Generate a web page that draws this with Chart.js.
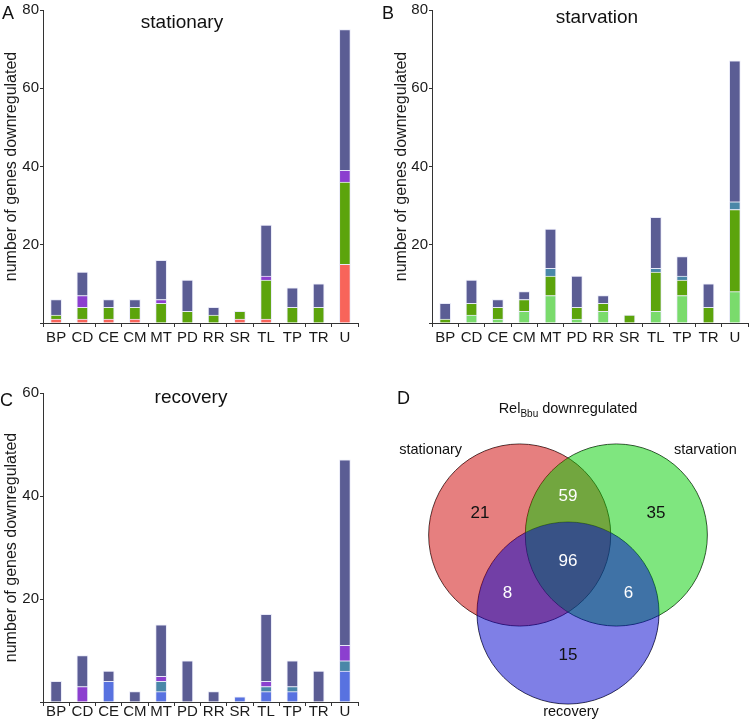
<!DOCTYPE html>
<html>
<head>
<meta charset="utf-8">
<script src="https://cdn.jsdelivr.net/npm/chart.js@4.4.1/dist/chart.umd.min.js"></script>
<style>
  html, body { margin: 0; padding: 0; background: #fff; }
  #wrap { position: relative; width: 749px; height: 721px; overflow: hidden; }
  canvas { position: absolute; }
</style>
</head>
<body>
<div id="wrap">
  <canvas id="chartA" width="370" height="350" style="left:0;top:0"></canvas>
  <canvas id="chartB" width="379" height="350" style="left:370px;top:0"></canvas>
  <canvas id="chartC" width="370" height="371" style="left:0;top:350px"></canvas>
  <canvas id="chartD" width="379" height="371" style="left:370px;top:350px"></canvas>
</div>
<script>
const categories = ['BP', 'CD', 'CE', 'CM', 'MT', 'PD', 'RR', 'SR', 'TL', 'TP', 'TR', 'U'];

// genes per functional category, split by Venn region
const onlyStationary = [1, 1, 1, 1, 0, 0, 0, 1, 1, 0, 0, 15];
const onlyStarvation = [0, 2, 1, 3, 7, 1, 3, 0, 3, 7, 0, 8];
const onlyRecovery   = [0, 0, 4, 0, 2, 0, 0, 1, 2, 2, 0, 6];
const statAndStarv   = [1, 3, 3, 3, 5, 3, 2, 2, 10, 4, 4, 21];
const statAndRecov   = [0, 3, 0, 0, 1, 0, 0, 0, 1, 0, 0, 3];
const starvAndRecov  = [0, 0, 0, 0, 2, 0, 0, 0, 1, 1, 0, 2];
const allThree       = [4, 6, 2, 2, 10, 8, 2, 0, 13, 5, 6, 36];

const yTicksAB = [0, 20, 40, 60, 80];
const yTicksC = [0, 20, 40, 60];

// Venn: stationary, starvation, recovery, stat+starv, stat+recov, starv+recov, all three
const vennSets = ['stationary', 'starvation', 'recovery'];
const vennCounts = [21, 35, 15, 59, 8, 6, 96];

const FONT = '"Liberation Sans", Arial, Helvetica, sans-serif';
Chart.defaults.font.family = FONT;
Chart.defaults.color = '#1a1a1a';

const colors = {
  red: '#f8645a',
  green: '#5ca40c',
  purple: '#8c3fcf',
  navy: '#5b5d94',
  light: '#7adb6c',
  teal: '#4a87a8',
  blue: '#5872e0'
};

const panelText = {
  id: 'panelText',
  afterDraw(chart, args, opts) {
    const c = chart.ctx;
    c.save();
    c.fillStyle = '#111';
    c.textBaseline = 'alphabetic';
    c.textAlign = 'left';
    c.font = '18px ' + FONT;
    c.fillText(opts.letter, opts.letterX, opts.letterY);
    c.textAlign = 'center';
    c.font = '19px ' + FONT;
    c.fillText(opts.title, opts.titleX, opts.titleY);
    c.restore();
  }
};

function stackedPanel(id, layers, yTicks, frame, text) {
  const datasets = layers.map(l => ({
    label: l.name,
    data: l.values,
    backgroundColor: l.color,
    borderColor: 'rgba(232,233,248,0.95)',
    borderWidth: 1,
    barThickness: 11
  }));
  return new Chart(document.getElementById(id), {
    type: 'bar',
    data: { labels: categories, datasets: datasets },
    plugins: [panelText],
    options: {
      responsive: false,
      animation: false,
      layout: { padding: frame.pad },
      plugins: {
        legend: { display: false },
        tooltip: { enabled: false },
        panelText: text
      },
      scales: {
        x: {
          stacked: true,
          grid: { drawOnChartArea: false, tickLength: 4, color: '#333', offset: true },
          border: { display: true, color: '#333', width: 1 },
          ticks: { font: { size: 15 }, color: '#1a1a1a', padding: frame.xPad, maxRotation: 0, autoSkip: false },
          afterFit: s => { s.height = frame.xHeight; }
        },
        y: {
          stacked: true,
          min: yTicks[0],
          max: yTicks[yTicks.length - 1],
          afterBuildTicks: s => { s.ticks = yTicks.map(v => ({ value: v })); },
          grid: { drawOnChartArea: false, tickLength: 3, color: '#333' },
          border: { display: true, color: '#333', width: 1 },
          ticks: { font: { size: 15 }, color: '#1a1a1a', padding: 1, callback: v => v === 0 ? '' : v },
          title: { display: true, text: 'number of genes downregulated', font: { size: 16 }, color: '#1a1a1a', padding: 0 },
          afterFit: s => { s.width = frame.yWidth; }
        }
      }
    }
  });
}

stackedPanel('chartA', [
  { name: 'stationary only', values: onlyStationary, color: colors.red },
  { name: 'stationary + starvation', values: statAndStarv, color: colors.green },
  { name: 'stationary + recovery', values: statAndRecov, color: colors.purple },
  { name: 'all three', values: allThree, color: colors.navy }
], yTicksAB,
  { pad: { left: 2, top: 8, right: 12, bottom: 0 }, yWidth: 41, xHeight: 27, xPad: 2 },
  { letter: 'A', letterX: 2, letterY: 19, title: 'stationary', titleX: 182, titleY: 28 });

stackedPanel('chartB', [
  { name: 'starvation only', values: onlyStarvation, color: colors.light },
  { name: 'stationary + starvation', values: statAndStarv, color: colors.green },
  { name: 'starvation + recovery', values: starvAndRecov, color: colors.teal },
  { name: 'all three', values: allThree, color: colors.navy }
], yTicksAB,
  { pad: { left: 22, top: 7, right: 1, bottom: 0 }, yWidth: 40, xHeight: 27, xPad: 2 },
  { letter: 'B', letterX: 12, letterY: 19, title: 'starvation', titleX: 227, titleY: 23 });

stackedPanel('chartC', [
  { name: 'recovery only', values: onlyRecovery, color: colors.blue },
  { name: 'starvation + recovery', values: starvAndRecov, color: colors.teal },
  { name: 'stationary + recovery', values: statAndRecov, color: colors.purple },
  { name: 'all three', values: allThree, color: colors.navy }
], yTicksC,
  { pad: { left: 2, top: 43, right: 12, bottom: 0 }, yWidth: 41, xHeight: 19, xPad: -3 },
  { letter: 'C', letterX: 0, letterY: 56, title: 'recovery', titleX: 191, titleY: 53 });

// ---- Venn diagram (panel D) ----
const vennRadius = 91;
const vennMid = { x: 198, y: 211 };
const vennSpread = { x: 55.8, y: 52 };
const vennAngles = [210, 330, 90];
const vennCentres = vennAngles.map(a => ({
  x: vennMid.x + vennSpread.x * Math.cos(a * Math.PI / 180),
  y: vennMid.y + vennSpread.y * Math.sin(a * Math.PI / 180),
  r: vennRadius
}));

const vennText = {
  id: 'vennText',
  afterDatasetsDraw(chart) {
    const c = chart.ctx;
    const sx = v => chart.scales.x.getPixelForValue(v);
    const sy = v => chart.scales.y.getPixelForValue(v);
    const P = vennCentres;
    const mid = (i, j) => ({ x: (P[i].x + P[j].x) / 2, y: (P[i].y + P[j].y) / 2 });
    const push = (p, k) => ({ x: vennMid.x + (p.x - vennMid.x) * k, y: vennMid.y + (p.y - vennMid.y) * k });
    const spots = [push(P[0], 1.82), push(P[1], 1.82), push(P[2], 1.82),
      push(mid(0, 1), 2.5), push(mid(0, 2), 2.5), push(mid(1, 2), 2.5), vennMid];
    c.save();
    c.textAlign = 'center';
    c.textBaseline = 'middle';
    c.font = '17px ' + FONT;
    vennCounts.forEach((n, i) => {
      c.fillStyle = i < 3 ? '#111' : '#fff';
      c.fillText(String(n), sx(spots[i].x), sy(spots[i].y));
    });
    c.fillStyle = '#111';
    c.font = '14.5px ' + FONT;
    c.fillText(vennSets[0], sx(P[0].x - P[0].r + 2), sy(P[0].y - P[0].r + 6));
    c.fillText(vennSets[1], sx(P[1].x + P[1].r - 2), sy(P[1].y - P[1].r + 6));
    c.fillText(vennSets[2], sx(P[2].x + 3), sy(P[2].y + P[2].r + 8));
    // title with subscript
    c.textBaseline = 'alphabetic';
    c.textAlign = 'left';
    const mainFont = '14.5px ' + FONT, subFont = '10px ' + FONT;
    c.font = mainFont; const w1 = c.measureText('Rel').width; const w3 = c.measureText(' downregulated').width;
    c.font = subFont; const w2 = c.measureText('Bbu').width;
    let x0 = sx(vennMid.x) - (w1 + w2 + w3) / 2;
    const base = 63;
    c.font = mainFont; c.fillText('Rel', x0, base);
    c.font = subFont; c.fillText('Bbu', x0 + w1, base + 4);
    c.font = mainFont; c.fillText(' downregulated', x0 + w1 + w2, base);
    c.font = '18px ' + FONT;
    c.fillText('D', 27, 54);
    c.restore();
  }
};

new Chart(document.getElementById('chartD'), {
  type: 'bubble',
  data: {
    datasets: [
      {
        label: 'sets',
        data: vennCentres,
        backgroundColor: ['rgba(205,0,0,0.5)', 'rgba(0,205,0,0.5)', 'rgba(0,0,205,0.5)'],
        borderWidth: 0
      },
      {
        label: 'outlines',
        data: vennCentres,
        backgroundColor: 'rgba(0,0,0,0)',
        borderColor: 'rgba(20,20,20,0.85)',
        borderWidth: 1
      }
    ]
  },
  plugins: [vennText],
  options: {
    responsive: false,
    animation: false,
    layout: { padding: 0, autoPadding: false },
    plugins: { legend: { display: false }, tooltip: { enabled: false } },
    scales: {
      x: { display: false, min: 0, max: 379 },
      y: { display: false, min: 0, max: 371, reverse: true }
    }
  }
});
</script>
</body>
</html>
